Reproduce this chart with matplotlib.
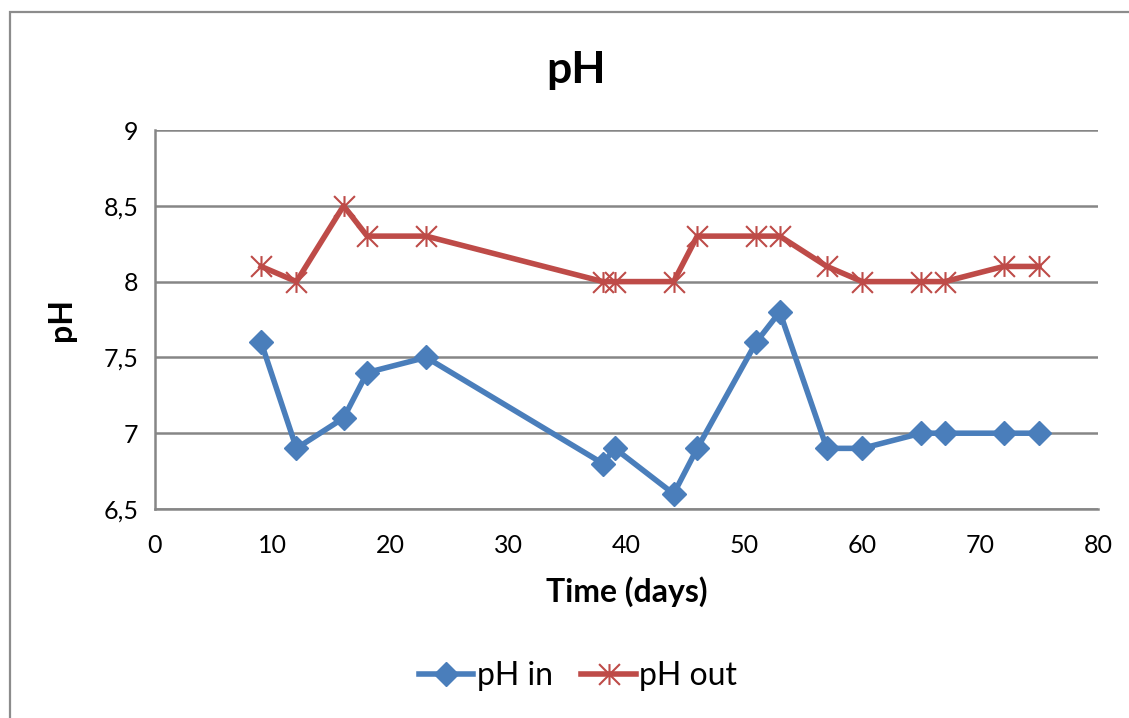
import numpy as np
import matplotlib
matplotlib.use("Agg")
import matplotlib.pyplot as plt
from matplotlib.path import Path
from matplotlib.patches import Rectangle
from matplotlib.ticker import FuncFormatter

plt.rcParams["font.family"] = ["Lato", "DejaVu Sans"]

# data
days = [9, 12, 16, 18, 23, 38, 39, 44, 46, 51, 53, 57, 60, 65, 67, 72, 75]
ph_in = [7.6, 6.9, 7.1, 7.4, 7.5, 6.8, 6.9, 6.6, 6.9, 7.6, 7.8, 6.9, 6.9, 7.0, 7.0, 7.0, 7.0]
ph_out = [8.1, 8.0, 8.5, 8.3, 8.3, 8.0, 8.0, 8.0, 8.3, 8.3, 8.3, 8.1, 8.0, 8.0, 8.0, 8.1, 8.1]
x_ticks = [0, 10, 20, 30, 40, 50, 60, 70, 80]
y_ticks = [6.5, 7, 7.5, 8, 8.5, 9]

blue = "#4A7EBB"
red = "#BE4B48"
grid_grey = "#868686"

# Excel-style star: vertical bar plus an X
star = Path(
    [(0, -1), (0, 1), (-1, -1), (1, 1), (-1, 1), (1, -1)],
    [Path.MOVETO, Path.LINETO, Path.MOVETO, Path.LINETO, Path.MOVETO, Path.LINETO],
)

W, H = 1129, 718
fig = plt.figure(figsize=(W / 100, H / 100), dpi=100)
fig.patches.append(Rectangle((10 / W, -0.1), 1.2, 1 - 12 / H + 0.1,
                             transform=fig.transFigure, fill=False,
                             edgecolor="#8c8c8c", linewidth=1.6))

ax = fig.add_axes([155 / W, (H - 509) / H, (1098 - 155) / W, (509 - 130) / H])

ax.plot(days, ph_in, color=blue, linewidth=4, marker="D", markersize=12,
        markerfacecolor=blue, markeredgecolor=blue, label="pH in", zorder=3)
ax.plot(days, ph_out, color=red, linewidth=4, marker=star, markersize=15,
        markerfacecolor="none", markeredgecolor=red, markeredgewidth=1.5,
        label="pH out", zorder=3)

ax.set_xlim(0, 80)
ax.set_ylim(6.5, 9)
ax.set_xticks(x_ticks)
ax.set_yticks(y_ticks)
ax.yaxis.set_major_formatter(FuncFormatter(lambda v, p: f"{v:g}".replace(".", ",")))
ax.tick_params(length=0, labelsize=18)
ax.tick_params(axis="x", pad=18)
ax.tick_params(axis="y", pad=12)
ax.grid(axis="y", color=grid_grey, linewidth=1.8)
ax.set_axisbelow(True)
for s in ["top", "right"]:
    ax.spines[s].set_visible(False)
for s in ["left", "bottom"]:
    ax.spines[s].set_color(grid_grey)
    ax.spines[s].set_linewidth(1.8)

# chart title is centred on the whole chart, not on the plot area
fig.text(576 / W, 1 - 70 / H, "pH", fontsize=32, fontweight="bold",
         ha="center", va="center")
ax.set_xlabel("Time (days)", fontsize=23, fontweight="bold", labelpad=14)
ax.set_ylabel("pH", fontsize=23, fontweight="bold", labelpad=20)

fig.legend(loc="center", bbox_to_anchor=(578 / W, 1 - 676 / H), ncol=2,
           frameon=False, fontsize=23, handlelength=1.7, handletextpad=0.1,
           columnspacing=0.9)

fig.savefig("out.png", dpi=100)
